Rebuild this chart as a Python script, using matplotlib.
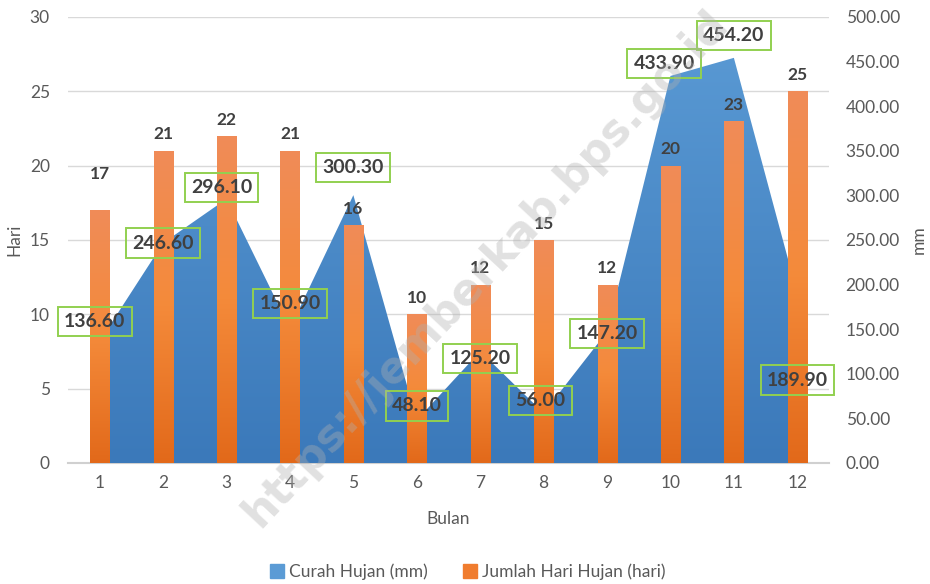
import numpy as np
import matplotlib.pyplot as plt
from matplotlib.colors import LinearSegmentedColormap
from matplotlib.patches import Patch

# data
bulan = [1, 2, 3, 4, 5, 6, 7, 8, 9, 10, 11, 12]
curah_hujan = [136.60, 246.60, 296.10, 150.90, 300.30, 48.10,
               125.20, 56.00, 147.20, 433.90, 454.20, 189.90]
hari_hujan = [17, 21, 22, 21, 16, 10, 12, 15, 12, 20, 23, 25]

# label placement (offset in mm from the point), hand tuned to the picture
lbl_dy = [22, 0, 13, 28, 31, 16, -8, 14, -2, 14, 25, -97]
lbl_dx = [-0.08, 0, -0.08, 0, 0, 0, 0, -0.05, 0, -0.1, 0, 0]

plt.rcParams['font.family'] = ['Lato', 'DejaVu Sans']
txt = '#595959'
dark = '#404040'
fs = 12.5

fig = plt.figure(figsize=(9.3, 5.84), dpi=100)
ax = fig.add_axes([0.0731, 0.2072, 0.8183, 0.7637])
ax2 = ax.twinx()   # curah hujan (mm)
ax3 = ax.twinx()   # bars on top, same scale as ax

x = np.array(bulan)
ax.set_xlim(0.5, 12.5)
ax.set_ylim(0, 30)
ax.set_yticks(range(0, 31, 5))
ax.grid(axis='y', color='#d9d9d9', lw=1)
ax.set_axisbelow(True)
ax.set_xticks(x)
ax.tick_params(length=0, labelsize=fs, colors=txt)
ax.tick_params(axis='y', pad=13)
ax.tick_params(axis='x', pad=9)
for s in ['top', 'left', 'right']:
    ax.spines[s].set_visible(False)
ax.spines['bottom'].set_color('#d0d0d0')
ax.spines['bottom'].set_linewidth(1.5)
ax.set_ylabel('Hari', fontsize=fs, color=txt, labelpad=5)
ax.set_xlabel('Bulan', fontsize=fs, color=txt, labelpad=14)

# area with gradient
ax2.set_ylim(0, 500)
ax2.set_yticks(np.arange(0, 501, 50))
ax2.set_yticklabels(['%.2f' % v for v in np.arange(0, 501, 50)])
ax2.tick_params(length=0, labelsize=fs, colors=txt, pad=12)
for s in ax2.spines.values():
    s.set_visible(False)
ax2.set_ylabel('mm', fontsize=fs, color=txt, labelpad=8)
area = ax2.fill_between(x, 0, curah_hujan, color='none', lw=0)
blue = LinearSegmentedColormap.from_list('b', ['#3b79ba', '#5b9bd5'])
grad = np.linspace(0, 1, 256).reshape(-1, 1)
im = ax2.imshow(grad, extent=[0.5, 12.5, 0, 500], origin='lower',
                aspect='auto', cmap=blue, zorder=1)
im.set_clip_path(area.get_paths()[0], transform=ax2.transData)
ax2.set_xlim(0.5, 12.5)
ax2.set_ylim(0, 500)

# bars with gradient
ax3.set_ylim(0, 30)
ax3.axis('off')
orange = LinearSegmentedColormap.from_list('o', ['#e2691a', '#f48a3a', '#f08c58'])
bars = ax3.bar(x, hari_hujan, width=0.3, color='none', lw=0, zorder=2)
for b in bars:
    bx, bw, bh = b.get_x(), b.get_width(), b.get_height()
    bi = ax3.imshow(grad, extent=[bx, bx + bw, 0, bh], origin='lower',
                    aspect='auto', cmap=orange, zorder=2)
    bi.set_clip_path(b)
ax3.set_xlim(0.5, 12.5)
ax3.set_ylim(0, 30)

# labels
for i, v in enumerate(hari_hujan):
    off = 20 if i == 0 else 6
    ax3.annotate(str(v), (x[i], v), xytext=(0, off), textcoords='offset points',
                 ha='center', va='bottom', fontsize=12.5, fontweight='bold',
                 color=dark, zorder=5)
for i, v in enumerate(curah_hujan):
    ax3.text(x[i] + lbl_dx[i], v + lbl_dy[i], '%.2f' % v, transform=ax2.transData,
             ha='center', va='center', fontsize=14, fontweight='bold',
             color=dark, zorder=6,
             bbox=dict(boxstyle='square,pad=0.32', fc='none', ec='#92d050', lw=1.4))

handles = [Patch(color='#5b9bd5', label='Curah Hujan (mm)'),
           Patch(color='#f07c2e', label='Jumlah Hari Hujan (hari)')]
fig.legend(handles=handles, loc='center', bbox_to_anchor=(0.503, 0.021), ncol=2,
           frameon=False, fontsize=fs, labelcolor=txt, handlelength=0.8,
           handleheight=0.8, handletextpad=0.3, columnspacing=2.0)

# watermark
fig.text(0.522, 0.54, 'https://jemberkab.bps.go.id', rotation=47,
         ha='center', va='center', fontsize=31.5, fontweight='bold',
         color='#b0b0b0', alpha=0.38, family='DejaVu Sans')

fig.savefig('out.png', dpi=100)
